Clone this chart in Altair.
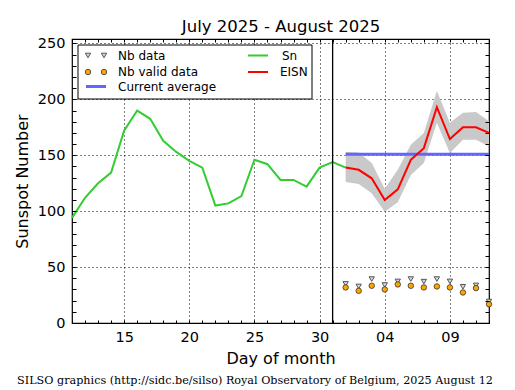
import altair as alt
import pandas as pd

# ---- data (day index: July d -> d, August d -> 31 + d) ----
sn_july_days = list(range(11, 32))
sn_july_values = [94, 112, 125, 134.5, 172, 190, 182.6, 163, 153, 145, 139,
                  105, 107, 113.5, 146, 142, 128, 128, 122, 139, 144]
sn_aug_days = [1]
sn_aug_values = [139]

aug_days = list(range(1, 13))
eisn_values = [139, 137, 129.4, 110, 119.5, 146, 156.4, 193, 164.5, 175, 175, 170]
eisn_upper = [153, 152.5, 143, 120, 137, 159.5, 170, 207.5, 179, 188, 188.6, 180.5]
eisn_lower = [126, 124.3, 116, 99.4, 108, 132.4, 143, 179, 152, 164, 164, 158]
nb_data = [35, 32.7, 39.3, 34, 37.2, 39.3, 37, 39.3, 37.2, 32.4, 33.6, 19.2]
nb_valid = [31.8, 28.8, 33.3, 30, 34.5, 33.3, 31.8, 32.7, 31.8, 27.3, 31.2, 16.8]
current_average = 151

x_tick_values = [15, 20, 25, 30, 35, 40]
x_minor_values = list(range(11, 44))
y_tick_values = [0, 50, 100, 150, 200, 250]
y_minor_values = list(range(0, 251, 10))

title_text = "July 2025 - August 2025"
footer_text = "SILSO graphics (http://sidc.be/silso) Royal Observatory of Belgium, 2025 August 12"

# ---- tables ----
sn_df = pd.DataFrame({
    "day": sn_july_days + [31 + d for d in sn_aug_days],
    "sn": sn_july_values + sn_aug_values,
})
aug_df = pd.DataFrame({
    "day": [31 + d for d in aug_days],
    "eisn": eisn_values,
    "upper": eisn_upper,
    "lower": eisn_lower,
    "nb": nb_data,
    "valid": nb_valid,
})
avg_df = pd.DataFrame({"start": [31 + aug_days[0]], "end": [31 + aug_days[-1]],
                       "avg": [current_average]})
vline_df = pd.DataFrame({"day": [31]})
one = pd.DataFrame({"a": [0]})

FONT = "DejaVu Sans"
xscale = alt.Scale(domain=[11, 43], nice=False, zero=False)
yscale = alt.Scale(domain=[0, 254], nice=False, zero=False)

main_x_axis = alt.Axis(
    values=x_tick_values, grid=True, gridDash=[1, 3], gridColor="black",
    gridOpacity=1, gridWidth=1, ticks=False, domain=False,
    labelFont=FONT, labelFontSize=14.5, labelColor="black", labelPadding=7,
    labelExpr="datum.value > 31 ? '0' + (datum.value - 31) : '' + datum.value",
    title="Day of month", titleFont=FONT, titleFontSize=16,
    titleFontWeight="normal", titleColor="black", titlePadding=7, zindex=0,
)
main_y_axis = alt.Axis(
    values=y_tick_values, grid=True, gridDash=[1, 3], gridColor="black",
    gridOpacity=1, gridWidth=1, ticks=False, domain=False,
    labelFont=FONT, labelFontSize=14.5, labelColor="black", labelPadding=7,
    title="Sunspot Number", titleFont=FONT, titleFontSize=16,
    titleFontWeight="normal", titleColor="black", titlePadding=7, zindex=0,
)


def tick_axis(orient, values, size):
    return alt.Axis(orient=orient, values=values, offset=-size, tickSize=size,
                    tickColor="black", tickWidth=1, labels=False, domain=False,
                    grid=False, title=None, zindex=2)


band = alt.Chart(aug_df).mark_area(color="#c9c9c9", opacity=1).encode(
    x=alt.X("day:Q", scale=xscale, axis=main_x_axis),
    y=alt.Y("lower:Q", scale=yscale, axis=main_y_axis),
    y2="upper:Q",
)
avg_line = alt.Chart(avg_df).mark_rule(color="#6464ff", strokeWidth=3).encode(
    x=alt.X("start:Q", scale=xscale, axis=tick_axis("bottom", x_minor_values, 3)),
    x2="end:Q",
    y=alt.Y("avg:Q", scale=yscale, axis=tick_axis("left", y_minor_values, 4)),
)
sn_line = alt.Chart(sn_df).mark_line(color="#33cc33", strokeWidth=2).encode(
    x=alt.X("day:Q", scale=xscale, axis=tick_axis("top", x_minor_values, 3)),
    y=alt.Y("sn:Q", scale=yscale, axis=tick_axis("right", y_minor_values, 4)),
)
eisn_line = alt.Chart(aug_df).mark_line(color="#ff0000", strokeWidth=2).encode(
    x=alt.X("day:Q", scale=xscale, axis=None),
    y=alt.Y("eisn:Q", scale=yscale, axis=None),
)
tri = alt.Chart(aug_df).mark_point(shape="triangle-down", filled=True, fill="#d8d8d8",
                                   stroke="#555555", strokeWidth=1, size=28,
                                   opacity=1).encode(
    x=alt.X("day:Q", scale=xscale, axis=None),
    y=alt.Y("nb:Q", scale=yscale, axis=None),
)
circ = alt.Chart(aug_df).mark_point(shape="circle", filled=True, fill="#ffa500",
                                    stroke="#333333", strokeWidth=0.8, size=30,
                                    opacity=1).encode(
    x=alt.X("day:Q", scale=xscale, axis=None),
    y=alt.Y("valid:Q", scale=yscale, axis=None),
)
vline = alt.Chart(vline_df).mark_rule(color="black", strokeWidth=1.3).encode(
    x=alt.X("day:Q", scale=xscale, axis=None),
)

# ---- legend (annotation) ----
leg_box = alt.Chart(one).mark_rect(fill="white", stroke="black", strokeWidth=1).encode(
    x=alt.value(6), x2=alt.value(240), y=alt.value(6), y2=alt.value(60))
leg_layers = [leg_box]
for xp in (16, 32):
    leg_layers.append(alt.Chart(one).mark_point(
        shape="triangle-down", filled=True, fill="#d8d8d8", stroke="#555555",
        strokeWidth=1, size=28, opacity=1).encode(x=alt.value(xp), y=alt.value(16.5)))
    leg_layers.append(alt.Chart(one).mark_point(
        shape="circle", filled=True, fill="#ffa500", stroke="#333333",
        strokeWidth=0.8, size=30, opacity=1).encode(x=alt.value(xp), y=alt.value(33)))
leg_layers.append(alt.Chart(one).mark_rule(color="#6464ff", strokeWidth=3).encode(
    x=alt.value(14), x2=alt.value(34), y=alt.value(47.5)))
leg_layers.append(alt.Chart(one).mark_rule(color="#33cc33", strokeWidth=2).encode(
    x=alt.value(176), x2=alt.value(196), y=alt.value(16.5)))
leg_layers.append(alt.Chart(one).mark_rule(color="#ff0000", strokeWidth=2).encode(
    x=alt.value(176), x2=alt.value(196), y=alt.value(33)))
for label, xp, yp in [("Nb data", 46, 16.5), ("Nb valid data", 46, 33),
                      ("Current average", 46, 47.5), ("Sn", 210, 16.5),
                      ("EISN", 208, 33)]:
    leg_layers.append(alt.Chart(one).mark_text(
        text=label, font=FONT, fontSize=12, color="black", align="left",
        baseline="middle").encode(x=alt.value(xp), y=alt.value(yp)))

footer = alt.Chart(one).mark_text(
    text=footer_text, font="DejaVu Serif", fontSize=11.2, color="black",
    align="center", baseline="middle").encode(x=alt.value(183), y=alt.value(342))

title_mark = alt.Chart(one).mark_text(
    text=title_text, font=FONT, fontSize=16.5, color="black",
    align="center", baseline="alphabetic").encode(x=alt.value(209), y=alt.value(-7))

chart = alt.layer(
    band, avg_line, sn_line, eisn_line, tri, circ, vline, *leg_layers, footer,
    title_mark
).resolve_axis(x="independent", y="independent").properties(
    width=417, height=284,
    autosize=alt.AutoSizeParams(type="none"),
    padding={"left": 64, "top": 31, "right": 16, "bottom": 67},
).configure_view(stroke="black", strokeWidth=1.2)

chart.save("out.html", embed_options={"renderer": "svg", "actions": False})
